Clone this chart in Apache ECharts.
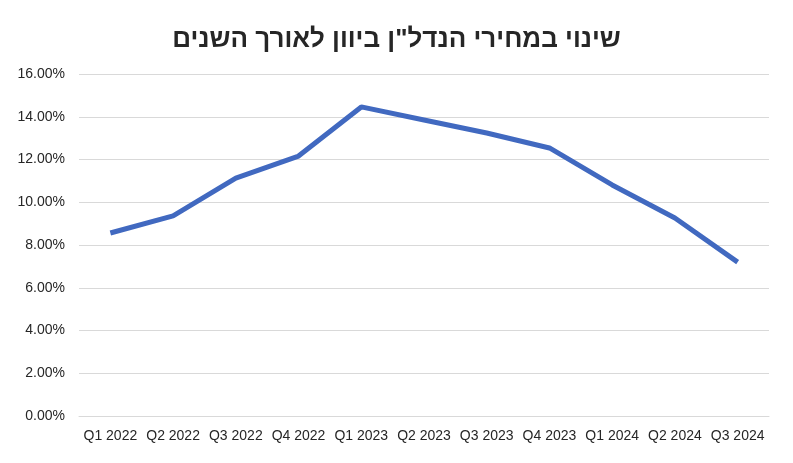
<!DOCTYPE html>
<html>
<head>
<meta charset="utf-8">
<script src="https://cdn.jsdelivr.net/npm/echarts@6/dist/echarts.min.js"></script>
<style>
  html, body { margin: 0; padding: 0; background: #fff; }
  #chart { width: 793px; height: 463px; }
</style>
</head>
<body>
<div id="chart"></div>
<script>
// רבעונים
const quarters = ['Q1 2022', 'Q2 2022', 'Q3 2022', 'Q4 2022', 'Q1 2023', 'Q2 2023',
  'Q3 2023', 'Q4 2023', 'Q1 2024', 'Q2 2024', 'Q3 2024'];
// שינוי באחוזים
const changePct = [8.56, 9.36, 11.13, 12.16, 14.46, 13.85, 13.24, 12.54, 10.81, 9.26, 7.2];

const chart = echarts.init(document.getElementById('chart'));
chart.setOption({
  animation: false,
  title: {
    text: 'שינוי במחירי הנדל"ן ביוון לאורך השנים',
    left: 'center',
    top: 22,
    textStyle: { fontFamily: 'Arial, Liberation Sans', fontSize: 26, fontWeight: 'bold', color: '#262626' }
  },
  grid: { left: 79, right: 24, top: 74, bottom: 47 },
  xAxis: {
    type: 'category',
    data: quarters,
    axisLine: { lineStyle: { color: '#d9d9d9' } },
    axisTick: { show: false },
    axisLabel: { color: '#262626', fontSize: 14, fontFamily: 'Arial, Liberation Sans', margin: 13, interval: 0 }
  },
  yAxis: {
    type: 'value',
    min: 0,
    max: 16,
    interval: 2,
    axisLine: { show: false },
    axisTick: { show: false },
    splitLine: { lineStyle: { color: '#d9d9d9' } },
    axisLabel: {
      color: '#262626', fontSize: 14, fontFamily: 'Arial, Liberation Sans', margin: 14,
      formatter: v => v.toFixed(2) + '%'
    }
  },
  series: [{
    type: 'line',
    data: changePct,
    symbol: 'none',
    lineStyle: { color: '#4169c0', width: 5 }
  }]
});
</script>
</body>
</html>
